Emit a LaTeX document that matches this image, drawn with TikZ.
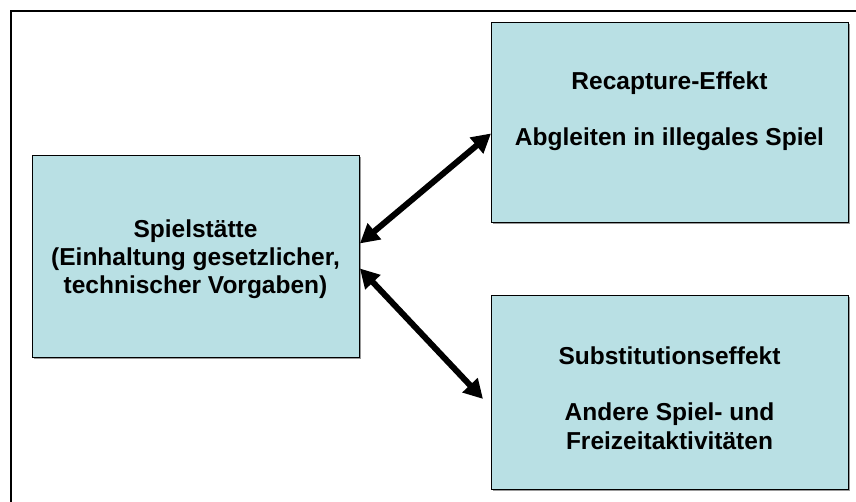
\documentclass[tikz,border=0pt]{standalone}
\usepackage{fontspec}
\setmainfont{Liberation Sans}
\usetikzlibrary{arrows.meta,shadows}
\definecolor{boxfill}{RGB}{185,224,228}
\begin{document}
\begin{tikzpicture}[x=1pt,y=-1pt,
  box/.style={draw=black, line width=0.9pt, fill=boxfill,
    drop shadow={shadow xshift=1.6pt, shadow yshift=-1.6pt, fill=gray!80, opacity=1}},
  lbl/.style={font=\fontsize{24.5}{28.2}\selectfont\bfseries, align=center, inner sep=0pt},
  link/.style={line width=6pt,
    {Triangle[length=19pt,width=20pt]}-{Triangle[length=19pt,width=20pt]}}]
\clip (0,0) rectangle (856,502);
% outer frame (runs off the page to the right and bottom)
\draw[line width=2pt] (11,11) rectangle (890,540);

% boxes
\node[box, anchor=north west, minimum width=327pt, minimum height=202pt] (spiel) at (32,155) {};
\node[box, anchor=north west, minimum width=357pt, minimum height=200pt] (recap) at (491,22) {};
\node[box, anchor=north west, minimum width=357pt, minimum height=194pt] (subst) at (491,295) {};

% box texts
\node[lbl] (spieltxt) at (195.5,259) {Spielstätte\\(Einhaltung gesetzlicher,\\technischer Vorgaben)};
\node[lbl] (recaptxt) at (669.5,111) {Recapture-Effekt\\[28.2pt]Abgleiten in illegales Spiel};
\node[lbl] (substtxt) at (669.5,398) {Substitutionseffekt\\[28.2pt]Andere Spiel- und\\Freizeitaktivitäten};

% connectors
\draw[link] ([yshift=13pt]spiel.east) -- ([yshift=-11pt]recap.west);
\draw[link] ([yshift=-12pt]spiel.east) -- ([xshift=-8pt,yshift=-6.5pt]subst.west);
\end{tikzpicture}
\end{document}
